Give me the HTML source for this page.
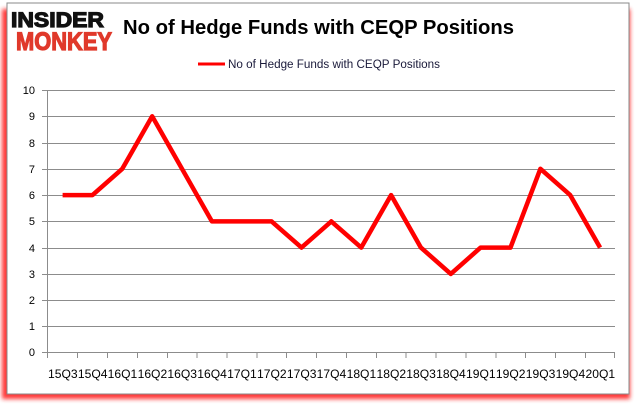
<!DOCTYPE html>
<html><head><meta charset="utf-8"><style>
html,body{margin:0;padding:0;background:#fff;}
svg{display:block;}
</style></head><body>
<svg width="637" height="408" viewBox="0 0 637 408" xmlns="http://www.w3.org/2000/svg">
<defs>
<filter id="sh" x="-5%" y="-5%" width="110%" height="115%">
<feGaussianBlur stdDeviation="2"/>
</filter>
</defs>
<rect x="0" y="0" width="637" height="408" fill="#fff"/>
<!-- red shadow (offset down-left) -->
<rect x="2" y="9" width="628" height="390" fill="#ff2020" filter="url(#sh)" opacity="0.9"/>
<rect x="7" y="3" width="622" height="391" fill="#fff" stroke="#8a8a8a" stroke-width="1"/>
<!-- logo -->
<text x="11" y="27" font-family="Liberation Sans, sans-serif" font-weight="900" font-size="21" fill="#111" stroke="#111" stroke-width="1.2" textLength="93" lengthAdjust="spacingAndGlyphs">INSIDER</text>
<text x="16" y="50" font-family="Liberation Sans, sans-serif" font-weight="900" font-size="25" fill="#e0392b" stroke="#e0392b" stroke-width="1.2" textLength="96" lengthAdjust="spacingAndGlyphs">MONKEY</text>
<!-- title -->
<text x="123" y="34" font-family="Liberation Sans, sans-serif" font-weight="bold" font-size="20" fill="#000" textLength="391" lengthAdjust="spacingAndGlyphs">No of Hedge Funds with CEQP Positions</text>
<!-- legend -->
<line x1="198" y1="64" x2="225" y2="64" stroke="#ff0000" stroke-width="3"/>
<text x="228" y="68" font-family="Liberation Sans, sans-serif" font-size="11.5" fill="#1a1a3a" textLength="212" lengthAdjust="spacingAndGlyphs">No of Hedge Funds with CEQP Positions</text>
<!-- gridlines -->
<g stroke="#8c8c8c" stroke-width="1">
<line x1="42" y1="90.5" x2="615" y2="90.5"/>
<line x1="42" y1="116.5" x2="615" y2="116.5"/>
<line x1="42" y1="143.5" x2="615" y2="143.5"/>
<line x1="42" y1="169.5" x2="615" y2="169.5"/>
<line x1="42" y1="195.5" x2="615" y2="195.5"/>
<line x1="42" y1="221.5" x2="615" y2="221.5"/>
<line x1="42" y1="248.5" x2="615" y2="248.5"/>
<line x1="42" y1="274.5" x2="615" y2="274.5"/>
<line x1="42" y1="300.5" x2="615" y2="300.5"/>
<line x1="42" y1="326.5" x2="615" y2="326.5"/>
<line x1="42" y1="352.5" x2="615" y2="352.5"/>
<line x1="47.5" y1="90" x2="47.5" y2="358"/>
</g>
<g font-family="Liberation Sans, sans-serif" font-size="11" fill="#000" text-anchor="end">
<text x="35" y="94">10</text>
<text x="35" y="120">9</text>
<text x="35" y="147">8</text>
<text x="35" y="173">7</text>
<text x="35" y="199">6</text>
<text x="35" y="225">5</text>
<text x="35" y="252">4</text>
<text x="35" y="278">3</text>
<text x="35" y="304">2</text>
<text x="35" y="330">1</text>
<text x="35" y="356">0</text>
</g>
<g stroke="#8c8c8c" stroke-width="1">
<line x1="77.5" y1="352" x2="77.5" y2="358"/>
<line x1="107.5" y1="352" x2="107.5" y2="358"/>
<line x1="137.5" y1="352" x2="137.5" y2="358"/>
<line x1="167.5" y1="352" x2="167.5" y2="358"/>
<line x1="197" y1="352" x2="197" y2="358"/>
<line x1="227" y1="352" x2="227" y2="358"/>
<line x1="257" y1="352" x2="257" y2="358"/>
<line x1="286.5" y1="352" x2="286.5" y2="358"/>
<line x1="316.5" y1="352" x2="316.5" y2="358"/>
<line x1="346.5" y1="352" x2="346.5" y2="358"/>
<line x1="376.5" y1="352" x2="376.5" y2="358"/>
<line x1="406" y1="352" x2="406" y2="358"/>
<line x1="436" y1="352" x2="436" y2="358"/>
<line x1="466" y1="352" x2="466" y2="358"/>
<line x1="496" y1="352" x2="496" y2="358"/>
<line x1="525.5" y1="352" x2="525.5" y2="358"/>
<line x1="555.5" y1="352" x2="555.5" y2="358"/>
<line x1="585.5" y1="352" x2="585.5" y2="358"/>
<line x1="614.5" y1="352" x2="614.5" y2="358"/>
</g>
<g font-family="Liberation Sans, sans-serif" font-size="12" fill="#000" lengthAdjust="spacingAndGlyphs">
<text x="48.0" y="378" textLength="29.6" lengthAdjust="spacingAndGlyphs">15Q3</text>
<text x="77.9" y="378" textLength="29.6" lengthAdjust="spacingAndGlyphs">15Q4</text>
<text x="107.7" y="378" textLength="29.6" lengthAdjust="spacingAndGlyphs">16Q1</text>
<text x="137.6" y="378" textLength="29.6" lengthAdjust="spacingAndGlyphs">16Q2</text>
<text x="167.4" y="378" textLength="29.6" lengthAdjust="spacingAndGlyphs">16Q3</text>
<text x="197.3" y="378" textLength="29.6" lengthAdjust="spacingAndGlyphs">16Q4</text>
<text x="227.2" y="378" textLength="29.6" lengthAdjust="spacingAndGlyphs">17Q1</text>
<text x="257.0" y="378" textLength="29.6" lengthAdjust="spacingAndGlyphs">17Q2</text>
<text x="286.9" y="378" textLength="29.6" lengthAdjust="spacingAndGlyphs">17Q3</text>
<text x="316.7" y="378" textLength="29.6" lengthAdjust="spacingAndGlyphs">17Q4</text>
<text x="346.6" y="378" textLength="29.6" lengthAdjust="spacingAndGlyphs">18Q1</text>
<text x="376.5" y="378" textLength="29.6" lengthAdjust="spacingAndGlyphs">18Q2</text>
<text x="406.3" y="378" textLength="29.6" lengthAdjust="spacingAndGlyphs">18Q3</text>
<text x="436.2" y="378" textLength="29.6" lengthAdjust="spacingAndGlyphs">18Q4</text>
<text x="466.0" y="378" textLength="29.6" lengthAdjust="spacingAndGlyphs">19Q1</text>
<text x="495.9" y="378" textLength="29.6" lengthAdjust="spacingAndGlyphs">19Q2</text>
<text x="525.8" y="378" textLength="29.6" lengthAdjust="spacingAndGlyphs">19Q3</text>
<text x="555.6" y="378" textLength="29.6" lengthAdjust="spacingAndGlyphs">19Q4</text>
<text x="585.5" y="378" textLength="29.6" lengthAdjust="spacingAndGlyphs">20Q1</text>
</g>
<polyline fill="none" stroke="#ff0000" stroke-width="4.5" stroke-linejoin="round" stroke-linecap="butt"
points="62.6,195.1 92.5,195.1 122.3,168.8 152.2,116.3 182.0,168.8 211.9,221.4 241.8,221.4 271.6,221.4 301.5,247.6 331.3,221.4 361.2,247.6 391.1,195.1 420.9,247.6 450.8,273.9 480.6,247.6 510.5,247.6 540.4,168.8 570.2,195.1 600.1,247.6"/>
</svg>
</body></html>
